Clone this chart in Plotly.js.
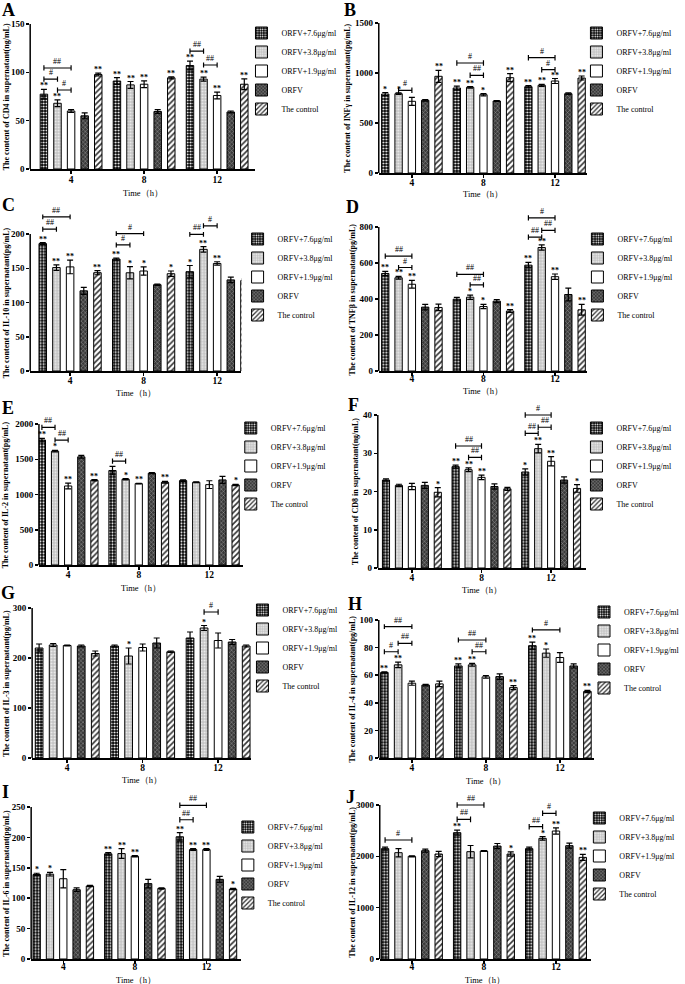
<!DOCTYPE html>
<html><head><meta charset="utf-8">
<script src="https://cdn.plot.ly/plotly-3.0.1.min.js"></script>
<style>html,body{margin:0;padding:0;background:#fff}#chart{width:685px;height:984px}</style>
</head><body><div id="chart"></div>
<script>
// ---------------- DATA ----------------
const timeLabels = ['4', '8', '12'];
const seriesNames = ['ORFV+7.6μg/ml', 'ORFV+3.8μg/ml', 'ORFV+1.9μg/ml', 'ORFV', 'The control'];
const xTitle = 'Time（h）';
// rows = series (order above), columns = time (4, 8, 12 h)
// brackets: [timeIndex, fromSeries, toSeries, yValue, label]

// A: CD4 (ng/mL)
const cd4Mean = [[77.4, 91, 107], [68, 87, 93], [60, 87.7, 76], [55, 59.5, 59], [97.7, 94.3, 87.7]];
const cd4Err = [[5, 3.5, 4.5], [3.5, 3.5, 2], [1.5, 3.5, 3.5], [3, 2, 1], [1.5, 1, 5.5]];
const cd4Stars = [['**', '**', '**'], ['**', '**', '**'], ['', '**', '**'], ['', '', ''], ['**', '**', '**']];
const cd4Brackets = [[0, 0, 2, 104.5, '##'], [0, 0, 1, 93, '#'], [0, 1, 2, 81.7, '#'], [2, 0, 1, 122, '##'], [2, 1, 2, 107.6, '##']];

// B: INFγ (pg/mL)
const infMean = [[790, 850, 863], [793, 857, 877], [717, 783, 920], [727, 720, 793], [967, 953, 950]];
const infErr = [[15, 18, 12], [8, 8, 10], [40, 12, 25], [8, 5, 8], [60, 40, 20]];
const infStars = [['*', '**', '**'], ['*', '**', '**'], ['', '*', '**'], ['', '', ''], ['**', '**', '**']];
const infBrackets = [[0, 1, 2, 827, '#'], [1, 0, 2, 1100, '#'], [1, 1, 2, 977, '##'], [2, 0, 2, 1153, '#'], [2, 1, 2, 1033, '#']];

// C: IL-10 (pg/mL)
const il10Mean = [[186, 163.4, 145], [151, 143.4, 177.6], [152, 146, 157], [117, 126, 133], [143.5, 142, 132]];
const il10Err = [[1.5, 1.5, 9], [4, 9, 4], [10, 6, 2.5], [5, 1, 4], [3, 4, 2]];
const il10Stars = [['**', '**', '*'], ['**', '*', '**'], ['**', '*', '**'], ['', '', ''], ['**', '*', '']];
const il10Brackets = [[0, 0, 2, 225, '##'], [0, 0, 1, 207, '##'], [1, 0, 2, 200.5, '#'], [1, 0, 1, 184, '#'], [2, 0, 1, 199.5, '##'], [2, 1, 2, 212, '#']];

// D: TNFβ (pg/mL)
const tnfMean = [[542, 399, 588], [518, 410, 686], [482, 358, 524], [355, 388, 425], [353, 333, 340]];
const tnfErr = [[12, 10, 15], [8, 12, 15], [22, 12, 15], [15, 8, 35], [18, 8, 30]];
const tnfStars = [['**', '', '**'], ['**', '*', '**'], ['**', '*', '**'], ['', '', ''], ['', '**', '**']];
const tnfBrackets = [[0, 0, 2, 638, '##'], [0, 1, 2, 575, '#'], [1, 0, 2, 537, '##'], [1, 1, 2, 478, '##'], [2, 0, 2, 851, '#'], [2, 1, 2, 781, '##'], [2, 0, 1, 744, '##']];

// E: IL-2 (pg/mL)
const il2Mean = [[1772, 1340, 1197], [1615, 1216, 1173], [1121, 1154, 1140], [1534, 1302, 1207], [1202, 1173, 1135]];
const il2Err = [[25, 60, 12], [10, 8, 5], [40, 5, 55], [20, 8, 50], [10, 12, 8]];
const il2Stars = [['**', '', ''], ['*', '*', ''], ['**', '**', ''], ['', '', ''], ['**', '**', '*']];
const il2Brackets = [[0, 0, 1, 1952, '##'], [0, 1, 2, 1772, '##'], [1, 0, 1, 1473, '##']];

// F: CD8 (ng/mL)
const cd8Mean = [[23, 26.5, 25.1], [21.6, 25.7, 31.2], [21.3, 23.7, 27.9], [21.6, 21.3, 23], [19.8, 20.7, 20.8]];
const cd8Err = [[0.3, 0.4, 0.8], [0.3, 0.5, 1.1], [0.8, 0.6, 1.2], [0.8, 0.7, 0.8], [1.2, 0.4, 1]];
const cd8Stars = [['', '**', '*'], ['', '**', '**'], ['', '**', '**'], ['', '', ''], ['*', '', '*']];
const cd8Brackets = [[1, 0, 2, 31.9, '##'], [1, 1, 2, 28.9, '##'], [2, 0, 2, 40, '#'], [2, 1, 2, 36.8, '##'], [2, 0, 1, 35.2, '##']];

// G: IL-3 (pg/mL)
const il3Mean = [[220, 224, 240], [226, 204, 260], [225, 221, 235], [224, 230, 232], [209, 212.5, 224]];
const il3Err = [[8, 2, 12], [3, 16, 5], [1, 7, 15], [2, 10, 5], [5, 1.5, 2]];
const il3Stars = [['', '', ''], ['', '*', '*'], ['', '', ''], ['', '', ''], ['', '', '']];
const il3Brackets = [[2, 1, 2, 292, '#']];

// H: IL-4 (pg/mL)
const il4Mean = [[62, 66.7, 81.4], [67.5, 67.5, 76], [54.2, 58.8, 72.8], [52.8, 59, 66.7], [53.7, 51, 48.2]];
const il4Err = [[0.5, 1.5, 2.5], [2, 1, 3], [1.5, 1, 3.5], [0.5, 2, 1.5], [2, 1.5, 0.8]];
const il4Stars = [['**', '**', '**'], ['**', '**', '*'], ['', '', ''], ['', '', ''], ['', '**', '**']];
const il4Brackets = [[0, 0, 2, 95.2, '##'], [0, 0, 1, 77, '#'], [0, 1, 2, 83.1, '##'], [1, 0, 2, 85.5, '##'], [1, 1, 2, 77, '##'], [2, 0, 2, 92.8, '#']];

// I: IL-6 (pg/mL)
const il6Mean = [[139, 173, 201], [139.5, 173.4, 180], [132, 169, 180], [114, 124, 131], [120, 116, 115]];
const il6Err = [[2, 2, 7], [3, 8, 1.5], [15, 1, 1.5], [3, 7, 5], [1, 1, 1]];
const il6Stars = [['*', '**', '**'], ['*', '**', '**'], ['', '**', '**'], ['', '', ''], ['', '', '*']];
const il6Brackets = [[2, 0, 2, 252.7, '##'], [2, 0, 1, 229, '##']];

// J: IL-12 (pg/mL)
const il12Mean = [[2150, 2461, 2150], [2071, 2091, 2350], [2000, 2104, 2493], [2110, 2200, 2208], [2045, 2045, 1980]];
const il12Err = [[30, 50, 30], [80, 120, 35], [10, 10, 60], [30, 50, 50], [50, 40, 60]];
const il12Stars = [['', '**', ''], ['', '', '*'], ['', '', '**'], ['', '', ''], ['', '*', '**']];
const il12Brackets = [[0, 0, 2, 2318, '#'], [1, 0, 2, 3000, '##'], [1, 0, 1, 2720, '##'], [2, 0, 1, 2578, '##'], [2, 1, 2, 2838, '#']];

// ---------------- PANEL LAYOUT (pixels) ----------------
const panels = [
  {letter: 'A', mean: cd4Mean, err: cd4Err, stars: cd4Stars, brackets: cd4Brackets, yTitle: 'The content of CD4 in supernatant(ng/mL)', top: 150, dtick: 50,
   x0: 31, g4: 73, g12: 223, xEnd: 262, y0: 169, yTop: 24, legX: 248, legY: 18.5, ytX: 7, letX: 1, letY: -1, xtY: 193, xlOff: -2},
  {letter: 'B', mean: infMean, err: infErr, stars: infStars, brackets: infBrackets, yTitle: 'The content of INFγ in supernatant(pg/mL)', top: 1500, dtick: 500,
   x0: 389, g4: 423, g12: 570, xEnd: 603, y0: 173, yTop: 23, legX: 592, legY: 18.5, ytX: 356, letX: 352, letY: -1, xtY: 194, xlOff: -3},
  {letter: 'C', mean: il10Mean, err: il10Err, stars: il10Stars, brackets: il10Brackets, yTitle: 'The content of IL-10 in supernatant(pg/mL)', top: 200, dtick: 50,
   x0: 31, g4: 72, g12: 223, xEnd: 248, y0: 371, yTop: 234, legX: 244, legY: 224.5, ytX: 7, letX: 1, letY: 194, xtY: 393, xlOff: -3},
  {letter: 'D', mean: tnfMean, err: tnfErr, stars: tnfStars, brackets: tnfBrackets, yTitle: 'The content of TNFβ in supernatant(pg/mL)', top: 800, dtick: 200,
   x0: 389, g4: 423, g12: 570, xEnd: 603, y0: 371, yTop: 227, legX: 593, legY: 224.5, ytX: 362, letX: 354, letY: 196, xtY: 391, xlOff: -5},
  {letter: 'E', mean: il2Mean, err: il2Err, stars: il2Stars, brackets: il2Brackets, yTitle: 'The content of IL-2 in supernatant(pg/mL)', top: 2000, dtick: 500,
   x0: 40, g4: 70, g12: 215, xEnd: 250, y0: 565, yTop: 424, legX: 237, legY: 413.5, ytX: 6, letX: 1, letY: 397, xtY: 588, xlOff: -3},
  {letter: 'F', mean: cd8Mean, err: cd8Err, stars: cd8Stars, brackets: cd8Brackets, yTitle: 'The content of CD8 in supernatant(ng/mL)', top: 40, dtick: 10,
   x0: 388, g4: 423, g12: 566, xEnd: 602, y0: 568, yTop: 415, legX: 592, legY: 413.5, ytX: 365, letX: 356, letY: 394, xtY: 590, xlOff: -3},
  {letter: 'G', mean: il3Mean, err: il3Err, stars: il3Stars, brackets: il3Brackets, yTitle: 'The content of IL-3 in supernatant(pg/mL)', top: 300, dtick: 100,
   x0: 33, g4: 69, g12: 224, xEnd: 258, y0: 758, yTop: 608, legX: 249, legY: 595.5, ytX: 6, letX: 0, letY: 582, xtY: 780, xlOff: -3},
  {letter: 'H', mean: il4Mean, err: il4Err, stars: il4Stars, brackets: il4Brackets, yTitle: 'The content of IL-4 in supernatant(pg/mL)', top: 100, dtick: 20,
   x0: 389, g4: 423, g12: 575, xEnd: 610, y0: 758, yTop: 620, legX: 600, legY: 597.5, ytX: 362, letX: 356, letY: 593, xtY: 781, xlOff: -3},
  {letter: 'I', mean: il6Mean, err: il6Err, stars: il6Stars, brackets: il6Brackets, yTitle: 'The content of IL-6 in supernatant(pg/mL)', top: 250, dtick: 50,
   x0: 32, g4: 65, g12: 212, xEnd: 247, y0: 959, yTop: 807, legX: 234, legY: 812.5, ytX: 6, letX: 1, letY: 781, xtY: 979.5, xlOff: -5},
  {letter: 'J', mean: il12Mean, err: il12Err, stars: il12Stars, brackets: il12Brackets, yTitle: 'The content of IL-12 in supernatant(pg/mL)', top: 3000, dtick: 1000,
   x0: 390, g4: 423, g12: 571, xEnd: 607, y0: 959, yTop: 805, legX: 595, legY: 803.5, ytX: 362, letX: 354, letY: 786, xtY: 979.5, xlOff: -5}
];

// ---------------- STYLES ----------------
const FONT = 'Liberation Serif';
const seriesStyles = [
  {color: '#000000', pattern: {shape: '.', fillmode: 'replace', bgcolor: '#000000', fgcolor: '#ffffff', size: 3, solidity: 0.35}},
  {color: '#c4c4c4', pattern: {shape: '.', fillmode: 'replace', bgcolor: '#c4c4c4', fgcolor: '#eeeeee', size: 3, solidity: 0.3}},
  {color: '#ffffff'},
  {color: '#3a3a3a', pattern: {shape: 'x', fillmode: 'replace', bgcolor: '#3a3a3a', fgcolor: '#9a9a9a', size: 3, solidity: 0.3}},
  {color: '#ffffff', pattern: {shape: '/', fillmode: 'replace', bgcolor: '#ffffff', fgcolor: '#333333', size: 4, solidity: 0.4}}
];

const W = 685, H = 984;
const BARGAP = 0.07, GROUPGAP = 0.45;
const nS = seriesNames.length;
const slot = (1 - BARGAP) / nS;
const offsetOf = s => (s - (nS - 1) / 2) * slot;
const fx = v => v / W, fy = v => 1 - v / H;

const data = [], shapes = [], annotations = [];
const layout = {
  width: W, height: H, margin: {l: 0, r: 0, t: 0, b: 0},
  paper_bgcolor: '#ffffff', plot_bgcolor: 'rgba(0,0,0,0)',
  barmode: 'group', bargap: BARGAP, bargroupgap: GROUPGAP,
  font: {family: FONT, color: '#000'}, showlegend: true,
  shapes: shapes, annotations: annotations
};

panels.forEach((p, i) => {
  const k = i + 1, sfx = k === 1 ? '' : String(k);
  const xa = 'x' + sfx, ya = 'y' + sfx, lg = 'legend' + sfx;
  const unit = (p.g12 - p.g4) / 2;
  const ext = Math.min(1.2, p.y0 / (p.y0 - p.yTop));
  const domTopPx = p.y0 - (p.y0 - p.yTop) * ext;
  const yTicks = [];
  for (let v = 0; v <= p.top + 1e-9; v += p.dtick) yTicks.push(v);

  layout['xaxis' + sfx] = {
    domain: [fx(p.x0), fx(p.xEnd)], anchor: ya,
    range: [(p.x0 - p.g4) / unit, (p.xEnd - p.g4) / unit],
    tickvals: timeLabels.map((_, j) => j), ticktext: timeLabels,
    showline: true, linecolor: '#000', linewidth: 1.5, mirror: false,
    ticks: 'outside', ticklen: 3, tickwidth: 1.5, tickcolor: '#000', ticklabelstandoff: p.xlOff,
    tickfont: {family: FONT, size: 9.5, color: '#000', weight: 'bold'},
    showgrid: false, zeroline: false, fixedrange: true
  };
  layout['yaxis' + sfx] = {
    domain: [fy(p.y0), fy(domTopPx)], anchor: xa,
    range: [0, p.top * ext],
    tickvals: yTicks, ticktext: yTicks.map(String),
    showline: false, ticks: 'outside', ticklen: 3, tickwidth: 1.5, tickcolor: '#000',
    tickfont: {family: FONT, size: 9, color: '#000', weight: 'bold'},
    showgrid: false, zeroline: false, fixedrange: true
  };
  // visible y axis line from 0 to the top tick
  shapes.push({type: 'line', xref: xa + ' domain', yref: ya, x0: 0, x1: 0, y0: 0, y1: p.top,
    line: {color: '#000', width: 1.5}, layer: 'above'});

  layout[lg] = {
    x: fx(p.legX), y: fy(p.legY), xanchor: 'left', yanchor: 'top',
    font: {family: FONT, size: 8, color: '#000'}, bgcolor: 'rgba(0,0,0,0)',
    borderwidth: 0, tracegroupgap: 0, traceorder: 'normal'
  };

  seriesNames.forEach((name, s) => {
    const st = seriesStyles[s];
    const marker = {color: st.color, line: {color: '#000', width: 1}};
    if (st.pattern) marker.pattern = st.pattern;
    data.push({
      type: 'bar', name: name, x: timeLabels.map((_, j) => j), y: p.mean[s],
      xaxis: xa, yaxis: ya, legend: lg, showlegend: true, marker: marker,
      error_y: {type: 'data', array: p.err[s], visible: true, color: '#000', thickness: 1.2, width: 3},
      hoverinfo: 'skip'
    });
    p.stars[s].forEach((txt, t) => {
      if (!txt) return;
      annotations.push({xref: xa, yref: ya, x: t + offsetOf(s), y: p.mean[s][t] + p.err[s][t],
        text: txt, showarrow: false, xanchor: 'center', yanchor: 'bottom', yshift: -3,
        font: {family: FONT, size: 8, color: '#000', weight: 'bold'}});
    });
  });

  const cap = p.top * 0.018;
  p.brackets.forEach(b => {
    const [t, a, c, yv, lab] = b;
    const x1 = t + offsetOf(a), x2 = t + offsetOf(c);
    shapes.push({type: 'path', xref: xa, yref: ya,
      path: `M${x1},${yv - cap}L${x1},${yv + cap}M${x1},${yv}L${x2},${yv}M${x2},${yv - cap}L${x2},${yv + cap}`,
      line: {color: '#000', width: 1.2}, layer: 'above'});
    annotations.push({xref: xa, yref: ya, x: (x1 + x2) / 2, y: yv, text: lab, showarrow: false,
      xanchor: 'center', yanchor: 'bottom', yshift: 0,
      font: {family: FONT, size: 8, color: '#000'}});
  });

  // x-axis title
  annotations.push({xref: 'paper', yref: 'paper', x: fx((p.x0 + p.xEnd) / 2), y: fy(p.xtY),
    text: xTitle, showarrow: false, xanchor: 'center', yanchor: 'middle', borderpad: 0,
    font: {family: FONT, size: 8.5, color: '#000'}});
  // y-axis title
  annotations.push({xref: 'paper', yref: 'paper', x: fx(p.ytX), y: fy((p.y0 + p.yTop) / 2),
    text: p.yTitle, textangle: -90, showarrow: false, xanchor: 'center', yanchor: 'middle',
    font: {family: FONT, size: 8, color: '#000', weight: 'bold'}});
  // panel letter
  annotations.push({xref: 'paper', yref: 'paper', x: fx(p.letX), y: fy(p.letY), text: p.letter,
    showarrow: false, xanchor: 'left', yanchor: 'top', borderpad: 0,
    font: {family: FONT, size: 18, color: '#000', weight: 'bold'}});
});

Plotly.newPlot('chart', data, layout, {displayModeBar: false, staticPlot: true});
</script>
</body></html>
